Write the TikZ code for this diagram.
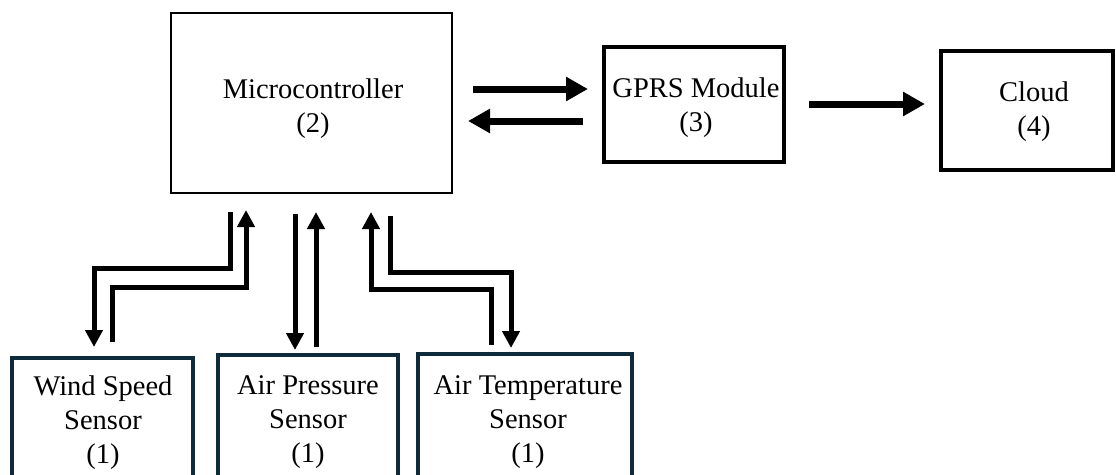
\documentclass[tikz,border=0pt]{standalone}
\usepackage{fontspec}
\setmainfont{Liberation Serif}
\usetikzlibrary{arrows.meta}
\definecolor{sensorblue}{HTML}{0F2A3A}
\begin{document}
\begin{tikzpicture}[x=1pt,y=-1pt,
  block/.style={draw=black, line width=2.8pt, inner sep=0pt, outer sep=0pt},
  heavyblock/.style={block, line width=3.6pt},
  sensorbox/.style={draw=sensorblue, line width=3.6pt, inner sep=0pt, outer sep=0pt},
  caption/.style={inner sep=0pt, align=center, font=\fontsize{28.5}{34}\selectfont},
  wire/.style={line width=5pt, line join=miter, -{Triangle[length=17pt,width=17pt]}},
  bus/.style={line width=7pt, -{Triangle[length=22pt,width=23pt]}}]

\clip (0,0) rectangle (1116,474);

% blocks of the data path
\node[block, minimum width=281pt, minimum height=180pt] (mcu) at (311.5,103) {};
\node[heavyblock, minimum width=180pt, minimum height=115pt] (gprs) at (694,104.5) {};
\node[heavyblock, minimum width=172pt, minimum height=119pt] (cloud) at (1027,110.5) {};

% sensor blocks, running past the lower edge
\node[sensorbox, minimum width=181pt, minimum height=142pt] (wind) at (102.5,429) {};
\node[sensorbox, minimum width=180pt, minimum height=145pt] (press) at (308,427.5) {};
\node[sensorbox, minimum width=214pt, minimum height=146pt] (temp) at (525,427) {};

% block captions
\node[caption] (mcutxt) at (313,108.5) {Microcontroller\\(2)};
\node[caption] (gprstxt) at (696,108) {GPRS Module\\(3)};
\node[caption] (cloudtxt) at (1034,112) {Cloud\\(4)};
\node[caption] (windtxt) at (103,423) {Wind Speed\\Sensor\\(1)};
\node[caption] (presstxt) at (308,422) {Air Pressure\\Sensor\\(1)};
\node[caption] (temptxt) at (528,422) {Air Temperature\\Sensor\\(1)};

% end points of the links
\coordinate (m2gA) at (473,89);   \coordinate (m2gB) at (588,89);
\coordinate (g2mA) at (583,121);  \coordinate (g2mB) at (468,121);
\coordinate (g2cA) at (809,104);  \coordinate (g2cB) at (925,104);

\coordinate (mwA) at (230,212); \coordinate (mwB) at (94,347);
\coordinate (wmA) at (112,342); \coordinate (wmB) at (246,210);
\coordinate (mpA) at (295,214); \coordinate (mpB) at (295,350);
\coordinate (pmA) at (316,347); \coordinate (pmB) at (316,212);
\coordinate (mtA) at (390,216); \coordinate (mtB) at (511,348);
\coordinate (tmA) at (491,345); \coordinate (tmB) at (371,212);

% microcontroller <-> GPRS <-> cloud
\draw[bus] (m2gA) -- (m2gB);
\draw[bus] (g2mA) -- (g2mB);
\draw[bus] (g2cA) -- (g2cB);

% sensor links
\draw[wire] (mwA) -- (mwA |- 0,268) -- (mwB |- 0,268) -- (mwB);
\draw[wire] (wmA) -- (wmA |- 0,287) -- (wmB |- 0,287) -- (wmB);
\draw[wire] (mpA) -- (mpB);
\draw[wire] (pmA) -- (pmB);
\draw[wire] (mtA) -- (mtA |- 0,272) -- (mtB |- 0,272) -- (mtB);
\draw[wire] (tmA) -- (tmA |- 0,289) -- (tmB |- 0,289) -- (tmB);
\end{tikzpicture}
\end{document}
